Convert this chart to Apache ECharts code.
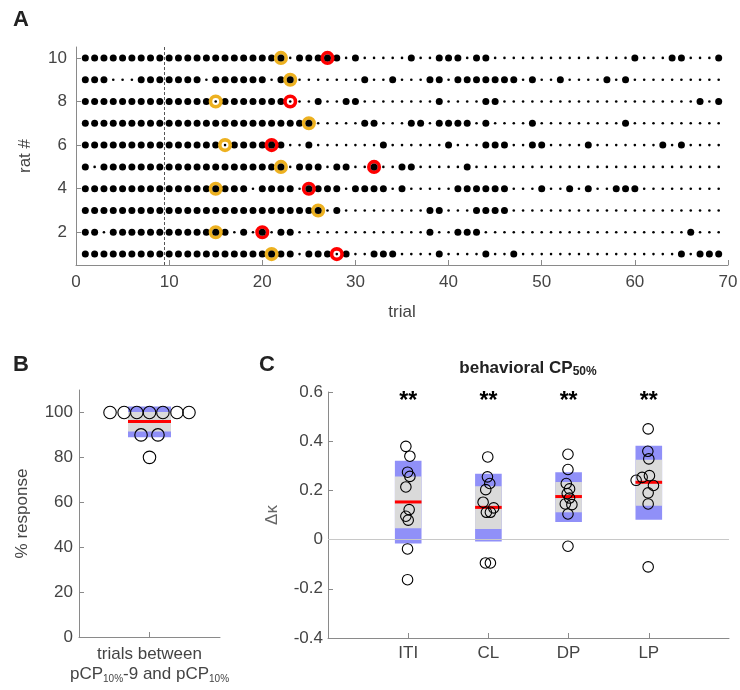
<!DOCTYPE html>
<html>
<head>
<meta charset="utf-8">
<script src="https://cdn.jsdelivr.net/npm/echarts@6/dist/echarts.min.js"></script>
<style>
html, body { margin: 0; padding: 0; background: #fff; }
#chart { width: 740px; height: 690px; }
</style>
</head>
<body>
<div id="chart"></div>
<script>
// ---- panel A: one string per rat (rat 1 first), one char per trial, 1 = responded
var ratIds = [1, 2, 3, 4, 5, 6, 7, 8, 9, 10];
var responses = [
    '1111111111 1111111111 1110111010 0111000010 0001001000 0000000000 000010111',
    '1101111111 1111110101 0110000000 0000000100 1110000000 0000000000 000001000',
    '1111111111 1111111111 1111110100 0000000110 0011110000 0000000000 000000000',
    '1111111111 1111111101 1110111101 1110100000 1111110001 0010100111 000000000',
    '1011111111 1111111111 1101110110 0100110000 0100000000 0000000000 000000000',
    '1111111111 1111101111 1100100000 0010000001 0001110011 0000100000 001010000',
    '1111111111 1111111111 1111100000 1100011011 1101000010 0000000010 000000000',
    '1111111111 1111011111 1100010011 0000000010 0001100000 0000000000 000000101',
    '1110001111 1110111111 0110000000 1001000110 1111111010 0100001010 000000000',
    '1111111111 1111111111 1101111101 0000010011 1011000000 0000000001 000110001'
];
var yellowTrial = [21, 15, 26, 15, 22, 16, 25, 15, 23, 22];
var redTrial = [28, 20, null, 25, 32, 21, null, 23, null, 27];
var dashedTrial = 9.5;
var trialTicks = [0, 10, 20, 30, 40, 50, 60, 70];
var ratTicks = [2, 4, 6, 8, 10];

// ---- panel B
var pctResponse = [100, 100, 100, 100, 100, 100, 100, 90, 90, 80];
var pctJitter = [-0.56, -0.36, -0.18, 0, 0.19, 0.39, 0.56, -0.12, 0.12, 0];
var pctMean = 96;
var pctOuter = [89, 102.7];
var pctInner = [91.5, 100.2];
var pctTicks = [0, 20, 40, 60, 80, 100];

// ---- panel C
var cCats = ['ITI', 'CL', 'DP', 'LP'];
var dKappa = [
    [0.379, 0.339, 0.274, 0.257, 0.214, 0.122, 0.095, 0.079, -0.038, -0.163],
    [0.336, 0.255, 0.228, 0.203, 0.152, 0.129, 0.111, 0.111, -0.095, -0.095],
    [0.347, 0.285, 0.228, 0.206, 0.187, 0.169, 0.145, 0.142, 0.104, -0.027],
    [0.450, 0.359, 0.328, 0.260, 0.253, 0.241, 0.220, 0.190, 0.145, -0.111]
];
var dKappaJitter = [
    [-0.029, 0.021, -0.008, 0.021, -0.029, 0.012, -0.029, 0, -0.008, -0.008],
    [-0.008, -0.012, 0.017, -0.033, -0.066, 0.066, -0.025, 0.025, -0.037, 0.025],
    [-0.008, -0.008, -0.029, 0.012, -0.017, 0.012, -0.041, 0.041, -0.008, -0.008],
    [-0.008, -0.012, 0, 0.008, -0.083, -0.158, 0.058, -0.008, -0.008, -0.008]
];
var dKappaMean = [0.153, 0.131, 0.175, 0.233];
var dKappaOuter = [[-0.016, 0.321], [-0.008, 0.268], [0.072, 0.274], [0.081, 0.382]];
var dKappaInner = [[0.046, 0.257], [0.043, 0.217], [0.111, 0.234], [0.138, 0.325]];
var sigMarks = ['**', '**', '**', '**'];

var FONT = '"Liberation Sans", Arial, sans-serif';
var AX = '#8a8a8a', TXT = '#444';
var GOLD = '#EDB120', RED = '#ff0000', BLUE = '#9090f8', GRAY = '#dadada';

// build panel A points
var bigDots = [], smallDots = [], centerBig = [], centerSmall = [];
var yellowPts = [], redPts = [];
responses.forEach(function (row, i) {
    var s = row.replace(/ /g, '');
    for (var t = 1; t <= s.length; t++) {
        (s[t - 1] === '1' ? bigDots : smallDots).push([t, ratIds[i]]);
    }
    [yellowTrial[i], redTrial[i]].forEach(function (tr, k) {
        if (!tr) return;
        (k === 0 ? yellowPts : redPts).push([tr, ratIds[i]]);
        (s[tr - 1] === '1' ? centerBig : centerSmall).push([tr, ratIds[i]]);
    });
});

var pctPts = pctResponse.map(function (v, i) { return [1 + pctJitter[i], v]; });
var kPts = [];
dKappa.forEach(function (vals, c) {
    vals.forEach(function (v, j) { kPts.push([c + 1 + dKappaJitter[c][j], v]); });
});

function rectItem(hw, fill) {
    return function (params, api) {
        var x = api.value(0);
        var a = api.coord([x - hw, api.value(2)]);
        var b = api.coord([x + hw, api.value(1)]);
        return { type: 'rect', shape: { x: a[0], y: a[1], width: b[0] - a[0], height: b[1] - a[1] }, style: { fill: fill } };
    };
}
function meanItem(hw) {
    return function (params, api) {
        var x = api.value(0), m = api.value(1);
        var a = api.coord([x - hw, m]), b = api.coord([x + hw, m]);
        return { type: 'line', shape: { x1: a[0], y1: a[1], x2: b[0], y2: b[1] }, style: { stroke: RED, lineWidth: 3 } };
    };
}

function axis(extra) {
    var o = {
        axisLine: { show: true, onZero: false, lineStyle: { color: AX, width: 1 } },
        axisTick: { show: true, inside: true, length: 5, lineStyle: { color: AX } },
        axisLabel: { color: TXT, fontSize: 17, fontFamily: FONT },
        splitLine: { show: false },
        nameTextStyle: { color: TXT, fontSize: 17, fontFamily: FONT }
    };
    for (var k in extra) {
        if (typeof extra[k] === 'object' && o[k] && !Array.isArray(extra[k])) {
            for (var kk in extra[k]) o[k][kk] = extra[k][kk];
        } else o[k] = extra[k];
    }
    return o;
}

function dots(data, size) {
    return { type: 'scatter', xAxisIndex: 0, yAxisIndex: 0, data: data, symbolSize: size,
        itemStyle: { color: '#000', opacity: 1 }, silent: true };
}
function rings(data, color) {
    return { type: 'scatter', xAxisIndex: 0, yAxisIndex: 0, data: data, symbolSize: 10.5,
        itemStyle: { color: '#fff', borderColor: color, borderWidth: 3.6, opacity: 1 }, silent: true };
}

var myChart = echarts.init(document.getElementById('chart'));
var smallSeries = dots(smallDots, 2.6);
smallSeries.markLine = { silent: true, symbol: ['none', 'none'], label: { show: false },
    lineStyle: { color: '#555', type: [3, 2], width: 1 }, data: [{ xAxis: dashedTrial }] };

var option = {
    animation: false,
    textStyle: { fontFamily: FONT },
    grid: [
        { left: 76, top: 47, width: 652, height: 218, outerBoundsMode: 'none' },
        { left: 79, top: 390, width: 141, height: 247, outerBoundsMode: 'none' },
        { left: 328, top: 392, width: 401, height: 246, outerBoundsMode: 'none' }
    ],
    xAxis: [
        axis({ gridIndex: 0, type: 'value', min: 0, max: 70, interval: 10,
            name: 'trial', nameLocation: 'middle', nameGap: 39,
            axisLabel: { margin: 9, customValues: trialTicks },
            axisTick: { customValues: trialTicks } }),
        axis({ gridIndex: 1, type: 'value', min: 0, max: 2,
            axisTick: { customValues: [1] },
            axisLabel: {
                margin: 7, customValues: [1], lineHeight: 20,
                formatter: function () { return '{a|trials between}\n{a|pCP}{s|10%}{a|-9 and pCP}{s|10%}'; },
                rich: {
                    a: { fontSize: 17, color: TXT, fontFamily: FONT, lineHeight: 20 },
                    s: { fontSize: 10, color: TXT, fontFamily: FONT, verticalAlign: 'bottom', lineHeight: 14 }
                }
            } }),
        axis({ gridIndex: 2, type: 'value', min: 0, max: 5,
            axisTick: { customValues: [1, 2, 3, 4] },
            axisLabel: { margin: 7, customValues: [1, 2, 3, 4], formatter: function (v) { return cCats[Math.round(v) - 1]; } } })
    ],
    yAxis: [
        axis({ gridIndex: 0, type: 'value', min: 0.5, max: 10.5,
            name: 'rat #', nameLocation: 'middle', nameGap: 42,
            axisLabel: { margin: 9, customValues: ratTicks },
            axisTick: { customValues: ratTicks } }),
        axis({ gridIndex: 1, type: 'value', min: 0, max: 110,
            name: '% response', nameLocation: 'middle', nameGap: 48,
            axisLabel: { margin: 6, customValues: pctTicks },
            axisTick: { customValues: pctTicks } }),
        axis({ gridIndex: 2, type: 'value', min: -0.4, max: 0.6, interval: 0.2,
            name: 'Δκ', nameLocation: 'middle', nameGap: 47,
            nameTextStyle: { color: '#666' },
            axisLabel: { margin: 5 } })
    ],
    graphic: [
        { type: 'text', x: 13, y: 9, style: { text: 'A', font: 'bold 22px ' + FONT, fill: '#222' } },
        { type: 'text', x: 13, y: 354, style: { text: 'B', font: 'bold 22px ' + FONT, fill: '#222' } },
        { type: 'text', x: 259, y: 354, style: { text: 'C', font: 'bold 22px ' + FONT, fill: '#222' } },
        { type: 'text', x: 528, y: 358, style: {
            text: '{b|behavioral CP}{s|50%}', align: 'center', textAlign: 'center',
            rich: {
                b: { font: 'bold 17px ' + FONT, fill: '#222', lineHeight: 20 },
                s: { font: 'bold 12px ' + FONT, fill: '#222', verticalAlign: 'bottom', lineHeight: 16 }
            } } }
    ],
    series: [
        // panel A: plain dots, then rings, then the dots sitting inside the rings
        smallSeries,
        dots(bigDots, 7),
        rings(yellowPts, GOLD),
        rings(redPts, RED),
        dots(centerBig, 7),
        dots(centerSmall, 2.6),

        // panel B
        { type: 'custom', xAxisIndex: 1, yAxisIndex: 1, renderItem: rectItem(0.305, BLUE),
          data: [[1, pctOuter[0], pctOuter[1]]], silent: true },
        { type: 'custom', xAxisIndex: 1, yAxisIndex: 1, renderItem: rectItem(0.305, GRAY),
          data: [[1, pctInner[0], pctInner[1]]], silent: true },
        { type: 'custom', xAxisIndex: 1, yAxisIndex: 1, renderItem: meanItem(0.305),
          data: [[1, pctMean]], silent: true },
        { type: 'scatter', xAxisIndex: 1, yAxisIndex: 1, data: pctPts, symbolSize: 12.5,
          itemStyle: { color: 'rgba(0,0,0,0)', borderColor: '#000', borderWidth: 1.1, opacity: 1 }, silent: true },

        // panel C
        { type: 'scatter', xAxisIndex: 2, yAxisIndex: 2, data: [], silent: true,
          markLine: { silent: true, symbol: ['none', 'none'], label: { show: false },
              lineStyle: { color: '#c8c8c8', type: 'solid', width: 1 }, data: [{ yAxis: 0 }] } },
        { type: 'custom', xAxisIndex: 2, yAxisIndex: 2, renderItem: rectItem(0.166, BLUE),
          data: dKappaOuter.map(function (r, c) { return [c + 1, r[0], r[1]]; }), silent: true },
        { type: 'custom', xAxisIndex: 2, yAxisIndex: 2, renderItem: rectItem(0.166, GRAY),
          data: dKappaInner.map(function (r, c) { return [c + 1, r[0], r[1]]; }), silent: true },
        { type: 'custom', xAxisIndex: 2, yAxisIndex: 2, renderItem: meanItem(0.166),
          data: dKappaMean.map(function (m, c) { return [c + 1, m]; }), silent: true },
        { type: 'scatter', xAxisIndex: 2, yAxisIndex: 2, data: kPts, symbolSize: 10.5,
          itemStyle: { color: 'rgba(0,0,0,0)', borderColor: '#000', borderWidth: 1.1, opacity: 1 }, silent: true },
        { type: 'scatter', xAxisIndex: 2, yAxisIndex: 2, silent: true, symbolSize: 1,
          itemStyle: { color: 'rgba(0,0,0,0)', opacity: 1 },
          data: sigMarks.map(function (s, c) { return [c + 1, 0.56]; }),
          label: { show: true, position: 'inside', fontSize: 23, fontWeight: 'bold', color: '#000',
              formatter: function (p) { return sigMarks[p.dataIndex]; } } }
    ]
};
myChart.setOption(option);
</script>
</body>
</html>
